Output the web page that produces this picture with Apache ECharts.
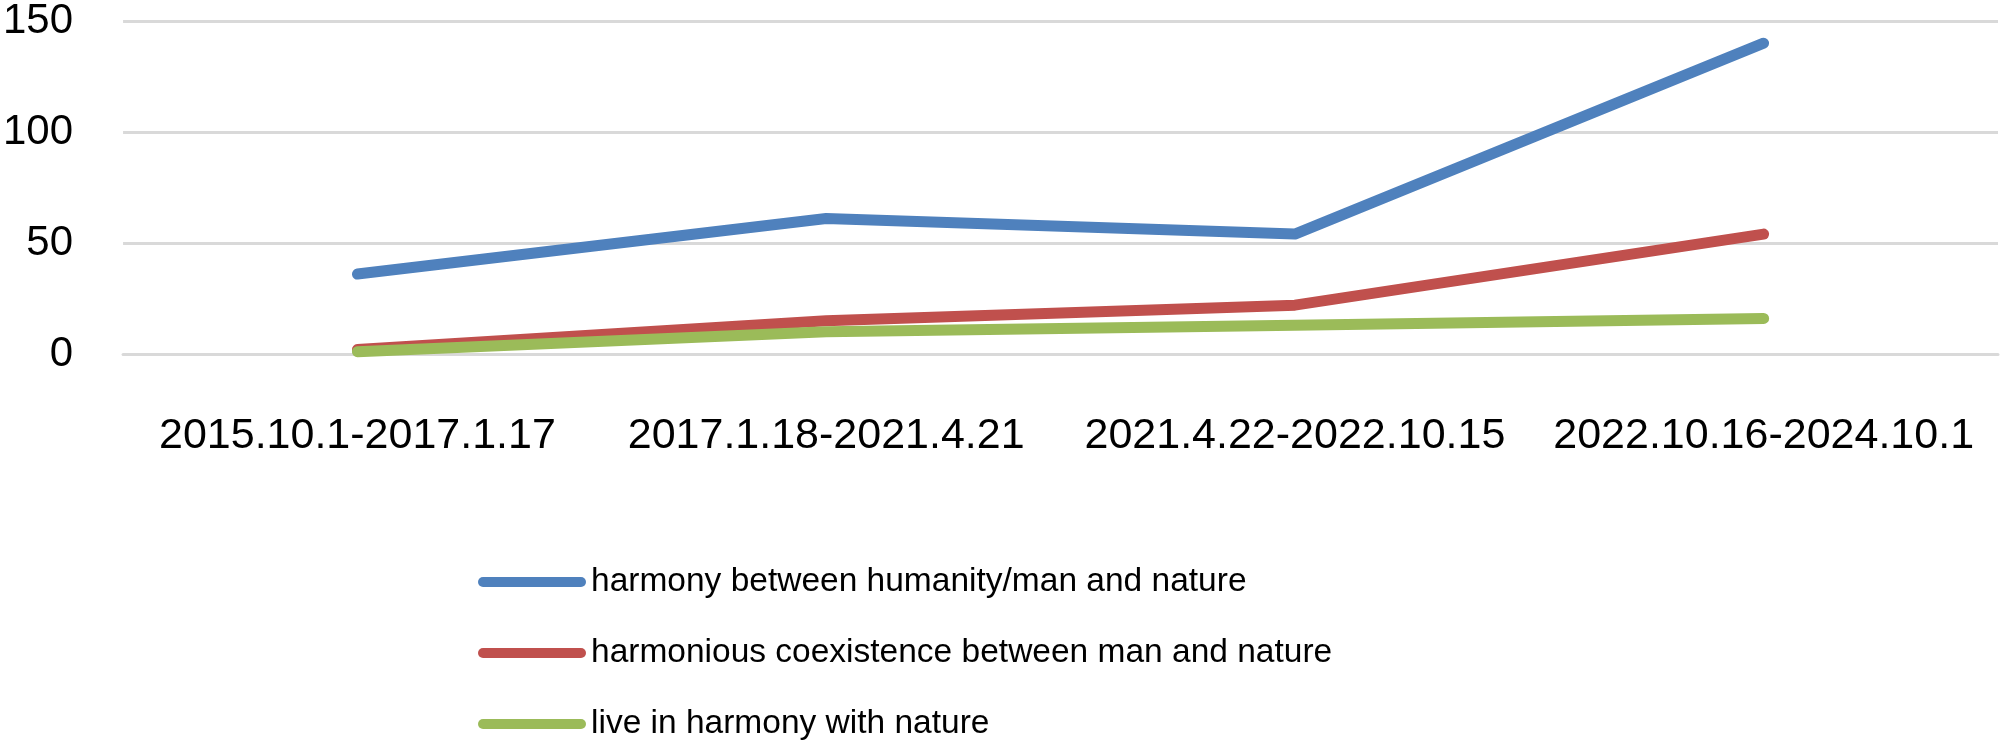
<!DOCTYPE html>
<html>
<head>
<meta charset="utf-8">
<script src="https://cdn.jsdelivr.net/npm/echarts@6/dist/echarts.min.js"></script>
<style>
html,body{margin:0;padding:0;background:#fff;}
#chart{width:2000px;height:747px;}
</style>
</head>
<body>
<div id="chart"></div>
<script>
const categories = ['2015.10.1-2017.1.17', '2017.1.18-2021.4.21', '2021.4.22-2022.10.15', '2022.10.16-2024.10.1'];
const seriesNames = ['harmony between humanity/man and nature', 'harmonious coexistence between man and nature', 'live in harmony with nature'];
const harmonyHumanity = [36, 61, 54, 140];
const harmoniousCoexistence = [2, 15, 22, 54];
const liveInHarmony = [1, 10, 13, 16];
const seriesColors = ['#4F81BD', '#C0504D', '#9BBB59'];

// detect narrow font availability
function fontAvailable(name) {
  const c = document.createElement('canvas').getContext('2d');
  const s = 'harmony between humanity/man and nature';
  c.font = '40px monospace';
  const a = c.measureText(s).width;
  c.font = '40px "' + name + '", monospace';
  const b = c.measureText(s).width;
  return Math.abs(a - b) > 1;
}
const narrow = fontAvailable('Liberation Sans Narrow');
const legendFont = narrow ? '"Liberation Sans Narrow"' : '"Liberation Sans"';
const legendSize = narrow ? 41 : 33.5;

const chart = echarts.init(document.getElementById('chart'));
const data = [harmonyHumanity, harmoniousCoexistence, liveInHarmony];
chart.setOption({
  backgroundColor: '#ffffff',
  animation: false,
  color: seriesColors,
  grid: { left: 115, right: 2, top: 19, bottom: 393 },
  xAxis: {
    type: 'category',
    data: categories,
    boundaryGap: true,
    axisLine: { show: true, lineStyle: { color: '#D9D9D9', width: 3 } },
    axisTick: { show: false },
    axisLabel: { color: '#000', fontFamily: 'Liberation Sans', fontSize: 43, margin: 61, interval: 0 }
  },
  yAxis: {
    type: 'value',
    min: 0, max: 150, interval: 50,
    axisLine: { show: false },
    axisTick: { show: false },
    axisLabel: { color: '#000', fontFamily: 'Liberation Sans', fontSize: 42, margin: 50 },
    splitLine: { lineStyle: { color: '#D9D9D9', width: 3 } }
  },
  legend: {
    orient: 'vertical',
    left: 478,
    top: 562,
    padding: 0,
    itemGap: 31,
    itemWidth: 108,
    itemHeight: 10,
    icon: 'path://M5,0 L103,0 A5,5 0 0 1 103,10 L5,10 A5,5 0 0 1 5,0 Z',
    textStyle: { color: '#000', fontFamily: legendFont, fontSize: legendSize, lineHeight: 40, padding: [0, 0, 0, 0] },
    data: seriesNames
  },
  series: seriesNames.map((n, i) => ({
    name: n,
    type: 'line',
    data: data[i],
    showSymbol: false,
    symbol: 'none',
    smooth: false,
    lineStyle: { width: 11, color: seriesColors[i], cap: 'round', join: 'round' },
    itemStyle: { color: seriesColors[i] }
  }))
});
</script>
</body>
</html>
